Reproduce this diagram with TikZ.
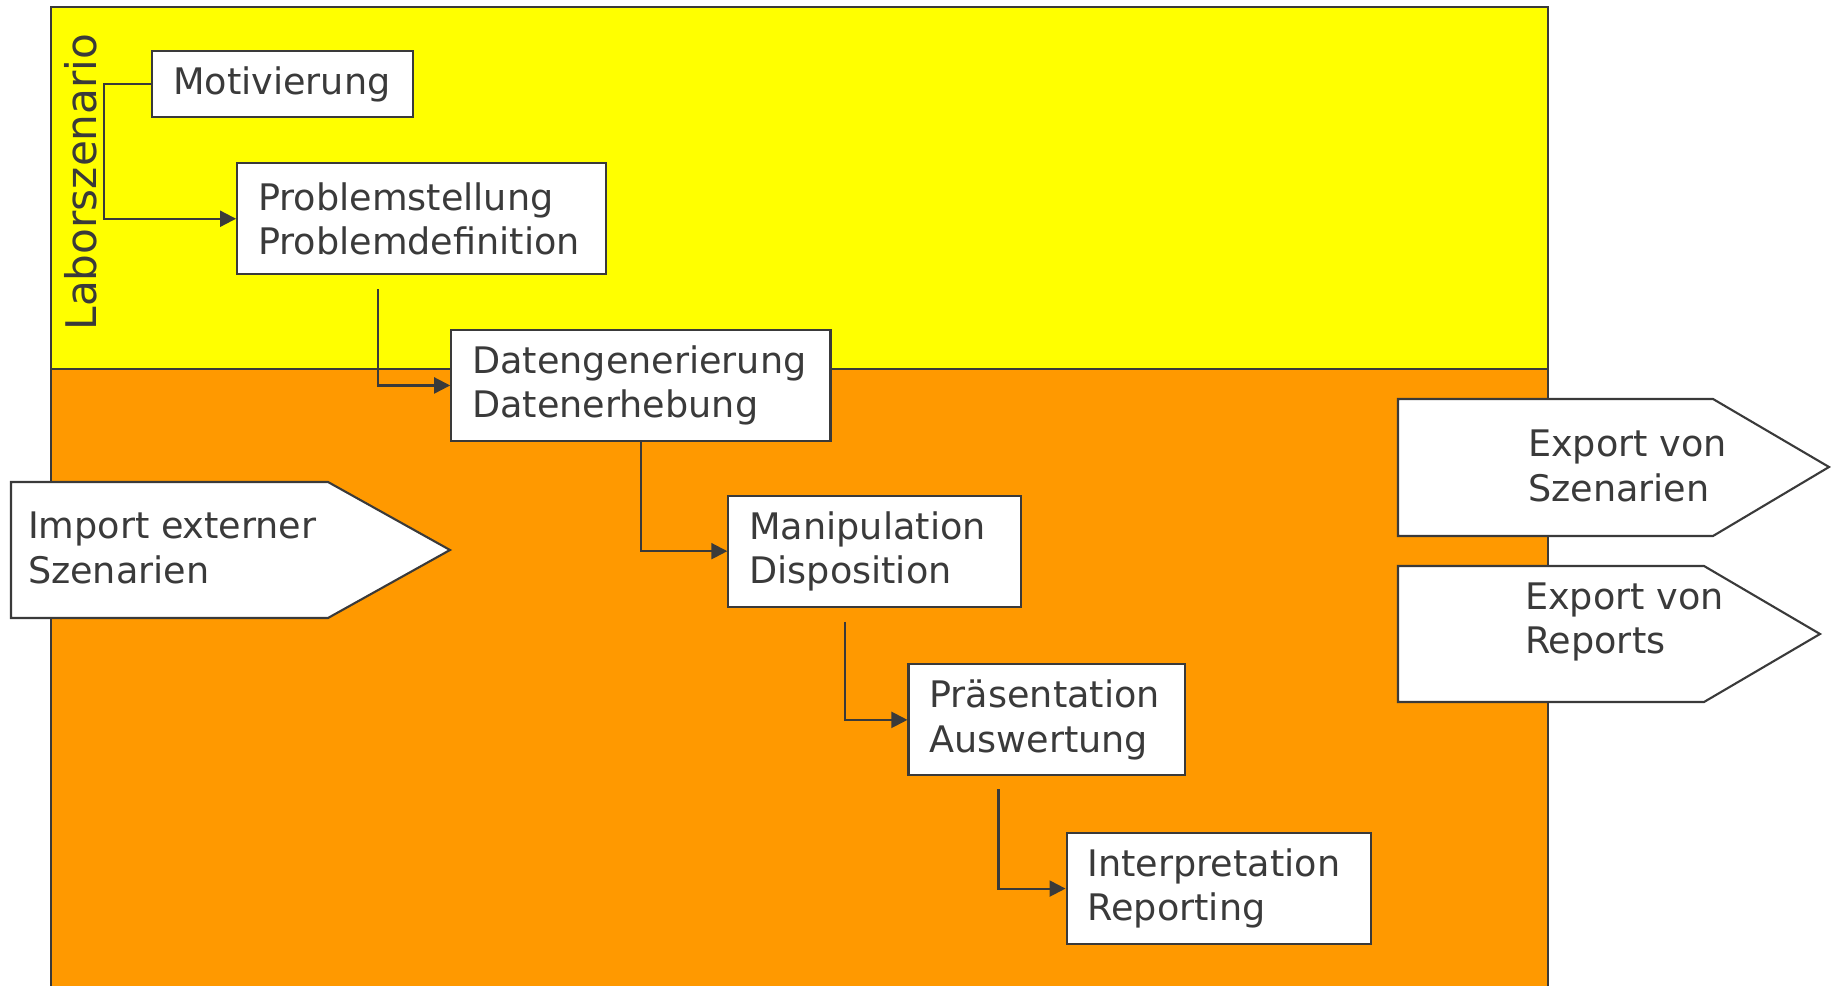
\documentclass[tikz,border=0pt]{standalone}
\usepackage{fontspec}
\setmainfont{DejaVu Sans}
\usetikzlibrary{positioning,arrows.meta}
\definecolor{labyellow}{HTML}{FFFF00}
\definecolor{laborange}{HTML}{FF9900}
\definecolor{darkline}{HTML}{3A3A3A}

\begin{document}
\begin{tikzpicture}[
    x=0.01cm, y=-0.01cm,
    line width=0.6pt,
    font=\fontsize{10.4}{12.6}\selectfont,
    box/.style = {
        rectangle, draw=darkline, fill=white, text=darkline,
        inner xsep=0.21cm, inner ysep=0pt, align=left
    },
    sign/.style = {draw=darkline, fill=white},
    signtext/.style = {inner sep=0pt, align=left, text=darkline, anchor=west},
    arrow/.style = {-{Triangle[length=0.16cm,width=0.16cm]}, draw=darkline}
]
\useasboundingbox (0,0) rectangle (1831,986);

% Background
\fill[labyellow] (51,7) rectangle (1548,369);
\fill[laborange] (51,369) rectangle (1548,986);
\draw[darkline] (51,986) -- (51,7) -- (1548,7) -- (1548,986);
\draw[darkline] (51,369) -- (1548,369);
\node[rotate=90, anchor=base, text=darkline, font=\fontsize{12}{14}\selectfont] (labor) at (96,182) {Laborszenario};

% Import / Export
\draw[sign] (11,482) -- (328,482) -- (450,550) -- (328,618) -- (11,618) -- cycle;
\node[signtext] (import) at (27,548) {Import externer\\Szenarien};
\draw[sign] (1398,399) -- (1713,399) -- (1829,467) -- (1713,536) -- (1398,536) -- cycle;
\node[signtext] (expszen) at (1527,466) {Export von\\Szenarien};
\draw[sign] (1398,566) -- (1704,566) -- (1820,634) -- (1704,702) -- (1398,702) -- cycle;
\node[signtext] (exprep) at (1524,622) {Export von\\Reports};

% Steps
\node[box, text width=2.19cm, minimum height=0.66cm, anchor=north west] (motiv) at (151,50) {Motivierung};
\node[box, text width=3.27cm, minimum height=1.11cm, below right=0.44cm and 0.85cm of motiv.south west] (problem) {Problemstellung\\Problemdefinition};
\node[box, text width=3.37cm, minimum height=1.11cm, below right=0.535cm and 2.14cm of problem.south west] (daten) {Datengenerierung\\Datenerhebung};
\node[box, text width=2.50cm, minimum height=1.11cm, below right=0.525cm and 2.77cm of daten.south west] (manip) {Manipulation\\Disposition};
\node[box, text width=2.34cm, minimum height=1.11cm, below right=0.555cm and 1.80cm of manip.south west] (praes) {Präsentation\\Auswertung};
\node[box, text width=2.62cm, minimum height=1.11cm, below right=0.555cm and 1.58cm of praes.south west] (interp) {Interpretation\\Reporting};

% Arrows
\draw[arrow] (motiv.west) -- ++(-47,0) |- (problem.west);
\draw[arrow] ([xshift=1.42cm,yshift=-0.14cm]problem.south west) |- (daten.west);
\draw[arrow] (daten.south) |- (manip.west);
\draw[arrow] ([xshift=1.18cm,yshift=-0.14cm]manip.south west) |- (praes.west);
\draw[arrow] ([xshift=0.91cm,yshift=-0.13cm]praes.south west) |- (interp.west);

\end{tikzpicture}
\end{document}
